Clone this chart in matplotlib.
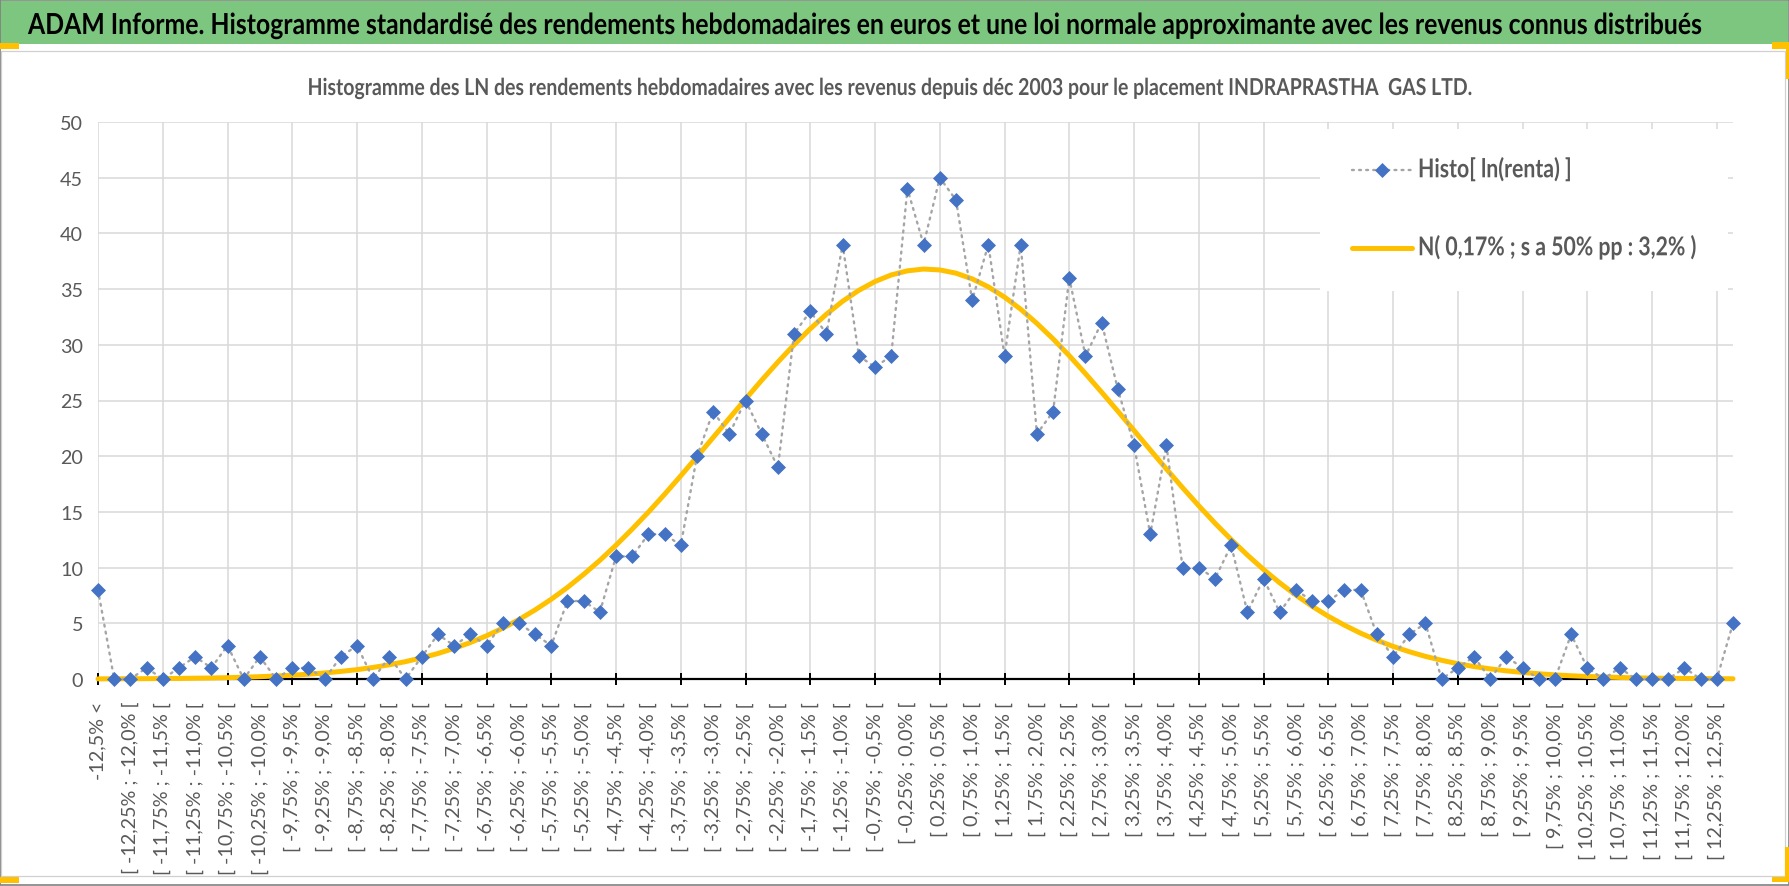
import matplotlib
matplotlib.use("Agg")
import matplotlib.pyplot as plt
from matplotlib.patches import Rectangle
from matplotlib.patheffects import AbstractPathEffect
from matplotlib.transforms import Affine2D

W, H, DPI = 1790, 887, 100
plt.rcParams['font.family'] = ['Lato', 'DejaVu Sans']

# ---------------- data ----------------
edges = ["-12,5", "-12,25", "-12,0", "-11,75", "-11,5", "-11,25", "-11,0", "-10,75", "-10,5", "-10,25",
         "-10,0", "-9,75", "-9,5", "-9,25", "-9,0", "-8,75", "-8,5", "-8,25", "-8,0", "-7,75",
         "-7,5", "-7,25", "-7,0", "-6,75", "-6,5", "-6,25", "-6,0", "-5,75", "-5,5", "-5,25",
         "-5,0", "-4,75", "-4,5", "-4,25", "-4,0", "-3,75", "-3,5", "-3,25", "-3,0", "-2,75",
         "-2,5", "-2,25", "-2,0", "-1,75", "-1,5", "-1,25", "-1,0", "-0,75", "-0,5", "-0,25",
         "0,0", "0,25", "0,5", "0,75", "1,0", "1,25", "1,5", "1,75", "2,0", "2,25",
         "2,5", "2,75", "3,0", "3,25", "3,5", "3,75", "4,0", "4,25", "4,5", "4,75",
         "5,0", "5,25", "5,5", "5,75", "6,0", "6,25", "6,5", "6,75", "7,0", "7,25",
         "7,5", "7,75", "8,0", "8,25", "8,5", "8,75", "9,0", "9,25", "9,5", "9,75",
         "10,0", "10,25", "10,5", "10,75", "11,0", "11,25", "11,5", "11,75", "12,0", "12,25",
         "12,5"]
categories = (["-12,5% <"]
              + [f"[ {a}% ; {b}% [" for a, b in zip(edges[:-1], edges[1:])]
              + ["> 12,5%"])

histo = [8, 0, 0, 1, 0, 1, 2, 1, 3, 0,
         2, 0, 1, 1, 0, 2, 3, 0, 2, 0,
         2, 4, 3, 4, 3, 5, 5, 4, 3, 7,
         7, 6, 11, 11, 13, 13, 12, 20, 24, 22,
         25, 22, 19, 31, 33, 31, 39, 29, 28, 29,
         44, 39, 45, 43, 34, 39, 29, 39, 22, 24,
         36, 29, 32, 26, 21, 13, 21, 10, 10, 9,
         12, 6, 9, 6, 8, 7, 7, 8, 8, 4,
         2, 4, 5, 0, 1, 2, 0, 2, 1, 0,
         0, 4, 1, 0, 1, 0, 0, 0, 1, 0, 0, 5]

normal = [0.01, 0.02, 0.02, 0.03, 0.04, 0.05, 0.07, 0.09, 0.12, 0.16,
          0.21, 0.27, 0.34, 0.43, 0.54, 0.68, 0.84, 1.04, 1.28, 1.56,
          1.9, 2.29, 2.75, 3.27, 3.88, 4.56, 5.33, 6.2, 7.16, 8.22,
          9.39, 10.65, 12.01, 13.46, 14.98, 16.58, 18.24, 19.95, 21.68, 23.41,
          25.13, 26.82, 28.45, 30.0, 31.44, 32.75, 33.91, 34.89, 35.68, 36.27,
          36.64, 36.8, 36.72, 36.43, 35.92, 35.2, 34.28, 33.19, 31.92, 30.53,
          29.02, 27.41, 25.74, 24.04, 22.31, 20.57, 18.85, 17.17, 15.55, 13.99,
          12.52, 11.13, 9.83, 8.63, 7.53, 6.53, 5.63, 4.83, 4.11, 3.48,
          2.93, 2.45, 2.03, 1.68, 1.37, 1.12, 0.91, 0.73, 0.59, 0.47,
          0.37, 0.29, 0.23, 0.18, 0.14, 0.1, 0.08, 0.06, 0.05, 0.04, 0.03, 0.02]

y_ticks = [0, 5, 10, 15, 20, 25, 30, 35, 40, 45, 50]

title = ("ADAM Informe. Histogramme standardisé des rendements hebdomadaires en euros "
         "et une loi normale approximante avec les revenus connus distribués")
subtitle = ("Histogramme des LN des rendements hebdomadaires avec les revenus depuis déc 2003 "
            "pour le placement INDRAPRASTHA  GAS LTD.")
legend_labels = ["Histo[ ln(renta) ]", "N( 0,17% ; s a 50% pp : 3,2% )"]


# vertical stretch of rendered glyphs around their baseline (text stays real text)
class StretchY(AbstractPathEffect):
    def __init__(self, sy):
        super().__init__()
        self.sy = sy

    def draw_path(self, renderer, gc, tpath, affine, rgbFace=None):
        y0 = affine.get_matrix()[1, 2]
        t = affine + Affine2D().translate(0, -y0).scale(1, self.sy).translate(0, y0)
        renderer.draw_path(gc, tpath, t, rgbFace)


# ---------------- figure ----------------
fig = plt.figure(figsize=(W / DPI, H / DPI), dpi=DPI, facecolor='white')
renderer = fig.canvas.get_renderer()
PT = DPI / 72.0


def measure(text, size, **kw):
    t = fig.text(0, 0, text, fontsize=size, **kw)
    bb = t.get_window_extent(renderer)
    t.remove()
    return bb.width, bb.height


def fit_size(text, target_px, **kw):
    w, _ = measure(text, 20, **kw)
    return 20 * target_px / w


def rect_px(x0, y0, x1, y1, **kw):
    return Rectangle((x0 / W, 1 - y1 / H), (x1 - x0) / W, (y1 - y0) / H, **kw)


GRAY_TXT = '#595959'
ORANGE = '#FFC000'

# banner and frames
fig.add_artist(rect_px(0, 2, 1788, 45, facecolor='#7DC67F', edgecolor='none', zorder=0))
fig.add_artist(rect_px(1.5, 51.5, 1785.5, 877, fill=False, edgecolor='#D0D0D0', lw=0.9, zorder=0))
fig.add_artist(rect_px(0.5, 0.5, 1789.5, 886, fill=False, edgecolor='#808080', lw=1.2, zorder=0))
# excel selection handles
for (x0, y0, x1, y1) in [(0, 44, 19, 50), (1772, 43, 1790, 50), (1786, 43, 1790, 80),
                         (1785, 848, 1790, 883), (1772, 878, 1790, 883), (0, 878, 19, 884)]:
    fig.add_artist(rect_px(x0, y0, x1, y1, facecolor=ORANGE, edgecolor='none', zorder=1))

tsize = fit_size(title, 1674, weight='bold')
fig.text(28 / W, 1 - 35 / H, title, fontsize=tsize, weight='bold', color='black',
         ha='left', va='baseline', path_effects=[StretchY(1.17)])
ssize = fit_size(subtitle, 1165, weight='bold')
fig.text(893 / W, 1 - 96 / H, subtitle, fontsize=ssize, weight='bold', color=GRAY_TXT,
         ha='center', va='baseline', path_effects=[StretchY(1.2)])

# axes
X0, X1, Y0, Y1 = 98, 1733, 680, 123
ax = fig.add_axes([X0 / W, 1 - Y0 / H, (X1 - X0) / W, (Y0 - Y1) / H])
ax.set_facecolor('white')
x = list(range(len(categories)))

ax.plot(x, histo, color='#A5A5A5', lw=1.7, linestyle=(0, (0.8, 2.2)), dash_capstyle='round',
        marker='D', markersize=7, markerfacecolor='#4472C4', markeredgecolor='#4472C4',
        markeredgewidth=0.5, clip_on=False, zorder=5, label=legend_labels[0])
ax.plot(x, normal, color=ORANGE, lw=3.6, solid_capstyle='round', solid_joinstyle='round',
        clip_on=False, zorder=4, label=legend_labels[1])

ax.set_xlim(0, len(categories) - 1)
ax.set_ylim(0, 50)
for s in ['top', 'right', 'left']:
    ax.spines[s].set_visible(False)
ax.spines['bottom'].set_color('black')
ax.spines['bottom'].set_linewidth(1.6)

ax.set_axisbelow(True)
ax.yaxis.grid(True, color='#D9D9D9', lw=1.1)
ax.xaxis.grid(True, which='major', color='#D9D9D9', lw=1.1)

xsize = fit_size("[ 2,25% ; 2,5% [", 135)
ysize = xsize

ax.set_yticks(y_ticks, labels=[str(v) for v in y_ticks])
ax.tick_params(axis='y', length=0, pad=15 / PT, labelsize=ysize, labelcolor=GRAY_TXT)

ax.set_xticks(x[0::4], labels=categories[0::4])
ax.set_xticks(x[2::4], labels=categories[2::4], minor=True)
ax.tick_params(axis='x', which='major', direction='inout', length=12 / PT, width=1.4,
               color='black', pad=(22 - 6) / PT, labelrotation=90, labelsize=xsize,
               labelcolor=GRAY_TXT)
ax.tick_params(axis='x', which='minor', length=0, pad=22 / PT, labelrotation=90,
               labelsize=xsize, labelcolor=GRAY_TXT)

# legend
lsize = fit_size(legend_labels[1], 279, weight='bold')
F = lsize * PT
_, hpx = measure(legend_labels[1], lsize, weight='bold')
bpad = (42 - hpx / 2) / F
lspace = (78 - hpx) / F
handle_start = 1320 + bpad * F
hlen = (1412 - handle_start) / F
ax_x = (1320 - X0) / (X1 - X0)
ax_y = (Y0 - 130) / (Y0 - Y1)
leg = ax.legend(loc='upper left', bbox_to_anchor=(ax_x, ax_y), borderaxespad=0,
                frameon=True, facecolor='white', edgecolor='none', framealpha=1,
                fancybox=False, prop={'weight': 'bold', 'size': lsize},
                labelcolor=GRAY_TXT, handlelength=hlen, handletextpad=6 / F,
                borderpad=bpad, labelspacing=lspace, numpoints=1)
leg.set_zorder(6)
for t in leg.get_texts():
    t.set_path_effects([StretchY(1.22)])

fig.savefig('out.png', dpi=DPI)
